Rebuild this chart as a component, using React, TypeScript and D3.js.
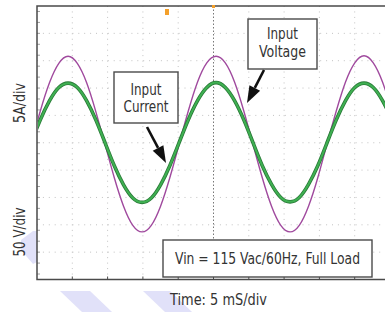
import { useEffect, useRef } from 'react';
import * as d3 from 'd3';

// time of each sample (ms)
const timeMs = [
  -0.84, 0.47, 1.78, 3.09, 4.4, 5.71, 7.02, 8.33, 9.64, 10.95, 12.26, 13.57, 14.88, 16.19,
  17.5, 18.81, 20.12, 21.43, 22.74, 24.05, 25.36, 26.67, 27.98, 29.29, 30.6, 31.91, 33.22,
  34.53, 35.84, 37.15, 38.46, 39.77, 41.08, 42.39, 43.7, 45.01, 46.32, 47.63, 48.94, 50.25,
  51.56,
];
// input voltage (V), 50 V/div
const voltage = [
  -3, 58, 110, 145, 158, 145, 110, 57, -3, -64, -116, -151, -163, -151, -116, -64, -3, 58,
  111, 146, 158, 146, 111, 58, -3, -64, -116, -151, -163, -151, -116, -64, -2, 58, 111, 146,
  159, 146, 111, 58, -2,
];
// input current (A), 5 A/div
const current = [
  0, 4.2, 7.7, 10.1, 10.9, 10.1, 7.7, 4.2, 0, -4.2, -7.7, -10.1, -10.9, -10.1, -7.7, -4.2, 0,
  4.2, 7.7, 10.1, 11.0, 10.1, 7.7, 4.2, 0, -4.2, -7.6, -10.0, -10.8, -10.0, -7.6, -4.2, 0, 4.2,
  7.7, 10.1, 10.9, 10.1, 7.7, 4.2, 0,
];

const timeLabel = 'Time: 5 mS/div';
const voltLabel = '50 V/div';
const ampLabel = '5A/div';
const noteLabel = 'Vin = 115 Vac/60Hz, Full Load';

const FONT = "'Liberation Sans Narrow', 'DejaVu Sans Condensed', 'Roboto Condensed', Roboto, sans-serif";

const Scope = () => {
  const svgRef = useRef(null);

  useEffect(() => {
    const svg = d3.select(svgRef.current);
    svg.selectAll('*').remove();

    const width = 385;
    const height = 312;
    const plot = { left: 37, top: 6, right: 390, bottom: 279.5 };

    const x = d3.scaleLinear().domain([0, 50]).range([plot.left, plot.right]);
    const yV = d3.scaleLinear().domain([-250, 250]).range([plot.bottom, plot.top]);
    const yA = d3.scaleLinear().domain([-25, 25]).range([plot.bottom, plot.top]);

    svg.append('rect').attr('width', width).attr('height', height).attr('fill', '#fff');

    // watermark stripes
    const stripes = [
      [[60, 291], [90, 291], [112, 312], [82, 312]],
      [[143, 291], [170, 291], [192, 312], [165, 312]],
      [[21, 240], [33, 231], [37, 231], [37, 262], [33, 264], [21, 250]],
    ];
    svg
      .selectAll('polygon.wm')
      .data(stripes)
      .enter()
      .append('polygon')
      .attr('points', (d) => d.map((p) => p.join(',')).join(' '))
      .attr('fill', '#e1e1f9');

    // grid
    const g = svg.append('g');
    const xDivs = d3.range(1, 10).map((i) => i * 5);
    const yDivs = d3.range(-4, 5).map((i) => i * 50);
    g.selectAll('line.vg')
      .data(xDivs.filter((d) => d !== 25))
      .enter()
      .append('line')
      .attr('x1', (d) => x(d))
      .attr('x2', (d) => x(d))
      .attr('y1', plot.top)
      .attr('y2', plot.bottom)
      .attr('stroke', '#c2c2c2')
      .attr('stroke-width', 1)
      .attr('stroke-dasharray', '1,4.46');
    g.selectAll('line.hg')
      .data(yDivs)
      .enter()
      .append('line')
      .attr('x1', plot.left)
      .attr('x2', width)
      .attr('y1', (d) => yV(d))
      .attr('y2', (d) => yV(d))
      .attr('stroke', '#c2c2c2')
      .attr('stroke-width', 1)
      .attr('stroke-dasharray', '1,4.9');
    // centre vertical
    g.append('line')
      .attr('x1', x(25))
      .attr('x2', x(25))
      .attr('y1', plot.top)
      .attr('y2', plot.bottom)
      .attr('stroke', '#777')
      .attr('stroke-width', 1)
      .attr('stroke-dasharray', '1.5,2');

    // left minor ticks
    g.selectAll('line.mt')
      .data(d3.range(-240, 250, 20))
      .enter()
      .append('line')
      .attr('x1', plot.left)
      .attr('x2', plot.left + 3)
      .attr('y1', (d) => yV(d))
      .attr('y2', (d) => yV(d))
      .attr('stroke', '#888')
      .attr('stroke-width', 0.8);

    // frame
    svg
      .append('path')
      .attr('d', `M${width},${plot.top}H${plot.left}V${plot.bottom}H${width}`)
      .attr('fill', 'none')
      .attr('stroke', '#4a4a4a')
      .attr('stroke-width', 1.5);
    svg
      .selectAll('line.bt')
      .data(xDivs)
      .enter()
      .append('line')
      .attr('x1', (d) => x(d))
      .attr('x2', (d) => x(d))
      .attr('y1', plot.bottom)
      .attr('y2', plot.bottom - 3)
      .attr('stroke', '#4a4a4a');

    // trigger markers
    svg.append('rect').attr('x', 165).attr('y', 9).attr('width', 4).attr('height', 6).attr('fill', '#f4a02a');
    svg.append('rect').attr('x', x(25) - 1.5).attr('y', 5).attr('width', 3).attr('height', 3).attr('fill', '#f4a02a');

    const traces = svg.append('g');
    const clip = svg.append('clipPath').attr('id', 'plotclip');
    clip.append('rect').attr('x', plot.left + 1).attr('y', plot.top + 1).attr('width', width).attr('height', plot.bottom - plot.top - 2);
    traces.attr('clip-path', 'url(#plotclip)');

    const lineV = d3
      .line<number>()
      .x((_, i) => x(timeMs[i]))
      .y((d) => yV(d))
      .curve(d3.curveNatural);
    const lineA = d3
      .line<number>()
      .x((_, i) => x(timeMs[i]))
      .y((d) => yA(d))
      .curve(d3.curveNatural);

    traces.append('path').attr('d', lineV(voltage)).attr('fill', 'none').attr('stroke', '#a04a9e').attr('stroke-width', 1.4);
    traces.append('path').attr('d', lineA(current)).attr('fill', 'none').attr('stroke', '#2a7a38').attr('stroke-width', 3.6);
    traces.append('path').attr('d', lineA(current)).attr('fill', 'none').attr('stroke', '#3fb052').attr('stroke-width', 2);

    // annotation boxes
    const boxes = [
      { x: 114, y: 72, w: 64, h: 51, lines: [['Input', 95, 31], ['Current', 112, 45]] },
      { x: 248, y: 19, w: 69, h: 50, lines: [['Input', 39, 31], ['Voltage', 57, 47]] },
      { x: 163, y: 240, w: 209, h: 37, lines: [[noteLabel, 264, 185]] },
    ];
    boxes.forEach((b) => {
      svg
        .append('rect')
        .attr('x', b.x)
        .attr('y', b.y)
        .attr('width', b.w)
        .attr('height', b.h)
        .attr('fill', '#fff')
        .attr('stroke', '#4a4a4a')
        .attr('stroke-width', 1.4);
      b.lines.forEach(([t, yy, len]) => {
        svg
          .append('text')
          .attr('x', b.x + b.w / 2)
          .attr('y', yy as number)
          .attr('text-anchor', 'middle')
          .attr('font-family', FONT)
          .attr('font-size', 15)
          .attr('fill', '#333')
          .attr('textLength', len as number)
          .attr('lengthAdjust', 'spacingAndGlyphs')
          .text(t as string);
      });
    });

    // arrows
    const arrows = [
      { from: [147, 127], to: [166, 163] },
      { from: [264, 70], to: [247, 103] },
    ];
    arrows.forEach(({ from, to }) => {
      const dx = to[0] - from[0];
      const dy = to[1] - from[1];
      const len = Math.hypot(dx, dy);
      const ux = dx / len;
      const uy = dy / len;
      const hl = 17;
      const hw = 6;
      const bx = to[0] - ux * hl;
      const by = to[1] - uy * hl;
      svg
        .append('line')
        .attr('x1', from[0])
        .attr('y1', from[1])
        .attr('x2', bx)
        .attr('y2', by)
        .attr('stroke', '#111')
        .attr('stroke-width', 2.6);
      svg
        .append('polygon')
        .attr('points', `${to[0]},${to[1]} ${bx - uy * hw},${by + ux * hw} ${bx + uy * hw},${by - ux * hw}`)
        .attr('fill', '#111');
    });

    // axis labels
    svg
      .append('text')
      .attr('x', 170)
      .attr('y', 305)
      .attr('font-family', FONT)
      .attr('font-size', 16)
      .attr('fill', '#333')
      .attr('textLength', 97)
      .attr('lengthAdjust', 'spacingAndGlyphs')
      .text(timeLabel);
    [
      [ampLabel, 103, 40],
      [voltLabel, 232, 49],
    ].forEach(([t, cy, len]) => {
      svg
        .append('text')
        .attr('transform', `translate(25,${cy}) rotate(-90)`)
        .attr('text-anchor', 'middle')
        .attr('font-family', FONT)
        .attr('font-size', 16)
        .attr('fill', '#333')
        .attr('textLength', len as number)
        .attr('lengthAdjust', 'spacingAndGlyphs')
        .text(t as string);
    });
  }, []);

  return (
    <svg
      ref={svgRef}
      width={385}
      height={312}
      style={{ position: 'absolute', left: 0, top: 0 }}
    ></svg>
  );
};

export default function App() {
  return <Scope />;
}
